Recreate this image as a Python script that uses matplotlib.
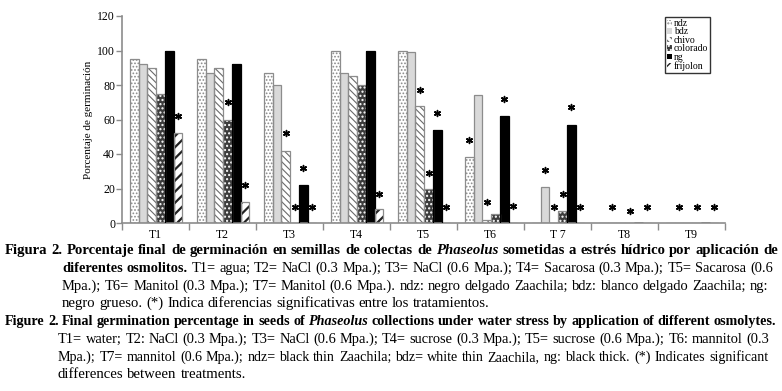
import matplotlib
matplotlib.use("Agg")
import matplotlib.pyplot as plt
import numpy as np
from matplotlib.font_manager import FontProperties
from matplotlib.patches import Patch
from matplotlib.transforms import IdentityTransform

treatments = ["T1", "T2", "T3", "T4", "T5", "T6", "T 7", "T8", "T9"]
collections = ["ndz", "bdz", "chivo", "colorado", "ng", "frijolon"]

ndz = [95, 95, 87, 100, 100, 38, 0, 0, 0]
bdz = [92, 87, 80, 87, 99, 74, 21, 0, 0]
chivo = [90, 90, 42, 85, 68, 2, 0, 0, 0]
colorado = [75, 60, 0, 80, 20, 5, 7, 0, 0]
ng = [100, 92, 22, 100, 54, 62, 57, 0, 0]
frijolon = [52, 12, 0, 8, 0, 0, 0, 0, 0]

# significance asterisks: (treatment, collection, height)
stars = [(0, 5, 62), (1, 3, 70), (1, 5, 22),
         (2, 2, 52), (2, 3, 9), (2, 4, 32), (2, 5, 9),
         (3, 5, 17),
         (4, 2, 77), (4, 3, 29), (4, 4, 64), (4, 5, 9),
         (5, 0, 48), (5, 2, 12), (5, 4, 72), (5, 5, 10),
         (6, 1, 31), (6, 2, 9), (6, 3, 17), (6, 4, 67), (6, 5, 9),
         (7, 1, 9), (7, 3, 7), (7, 5, 9),
         (8, 1, 9), (8, 3, 9), (8, 5, 9)]

caption_es = [
    [("Figura 2. Porcentaje final de germinación en semillas de colectas de ", "bold", "normal"),
     ("Phaseolus", "bold", "italic"),
     (" sometidas a estrés hídrico por aplicación de", "bold", "normal")],
    [("diferentes osmolitos.", "bold", "normal"),
     (" T1= agua; T2= NaCl (0.3 Mpa.); T3= NaCl (0.6 Mpa.); T4= Sacarosa (0.3 Mpa.); T5= Sacarosa (0.6", "normal", "normal")],
    [("Mpa.); T6= Manitol (0.3 Mpa.); T7= Manitol (0.6 Mpa.). ndz: negro delgado Zaachila; bdz: blanco delgado Zaachila; ng:", "normal", "normal")],
    [("negro grueso. (*) Indica diferencias significativas entre los tratamientos.", "normal", "normal")],
]
caption_en = [
    [("Figure 2. Final germination percentage in seeds of ", "bold", "normal"),
     ("Phaseolus", "bold", "italic"),
     (" collections under water stress by application of different osmolytes.", "bold", "normal")],
    [("T1= water; T2: NaCl (0.3 Mpa.); T3= NaCl (0.6 Mpa.); T4= sucrose (0.3 Mpa.); T5= sucrose (0.6 Mpa.); T6: mannitol (0.3", "normal", "normal")],
    [("Mpa.); T7= mannitol (0.6 Mpa.); ndz= black thin Zaachila; bdz= white thin Zaachila, ng: black thick. (*) Indicates significant", "normal", "normal")],
    [("differences between treatments.", "normal", "normal")],
]

SERIF = "Liberation Serif"
W, H = 782, 391

styles = {
    "ndz": dict(face="white", hatch=".....", hcolor="#8a8a8a", edge="#8c8c8c", hlw=0.8),
    "bdz": dict(face="#d9d9d9", hatch=None, hcolor="#d9d9d9", edge="#8c8c8c", hlw=0.8),
    "chivo": dict(face="white", hatch="\\\\\\\\\\", hcolor="#6a6a6a", edge="#8c8c8c", hlw=0.8),
    "colorado": dict(face="#3c3c3c", hatch="....", hcolor="white", edge="#8c8c8c", hlw=1.0),
    "ng": dict(face="black", hatch=None, hcolor="black", edge="black", hlw=0.8),
    "frijolon": dict(face="white", hatch="///", hcolor="#222222", edge="#8c8c8c", hlw=1.6),
}

fig = plt.figure(figsize=(W / 100, H / 100), dpi=100)
ax = fig.add_axes([122 / W, 1 - 223 / H, (725 - 122) / W, (223 - 16) / H])

x = np.arange(len(treatments))
width = 0.13
series = [ndz, bdz, chivo, colorado, ng, frijolon]
offsets = -0.5 + 0.12 + width * (np.arange(6) + 0.5)

handles = []
for i, (name, vals) in enumerate(zip(collections, series)):
    st = styles[name]
    with plt.rc_context({"hatch.linewidth": st["hlw"]}):
        # fill + hatch, hatch colour comes from edgecolor
        bars = ax.bar(x + offsets[i], vals, width, color=st["face"], edgecolor=st["hcolor"],
                      hatch=st["hatch"], linewidth=0, zorder=2)
        for b in bars:
            if hasattr(b, "set_hatch_linewidth"):
                b.set_hatch_linewidth(st["hlw"])
        # outline
        ax.bar(x + offsets[i], vals, width, fill=False, edgecolor=st["edge"], linewidth=0.9, zorder=3)
        h = Patch(facecolor=st["face"], edgecolor=st["hcolor"], hatch=st["hatch"], linewidth=0)
        if hasattr(h, "set_hatch_linewidth"):
            h.set_hatch_linewidth(st["hlw"] * 0.5)
    handles.append(h)

sx = [x[t] + offsets[c] for t, c, _ in stars]
sy = [v for _, _, v in stars]
ax.scatter(sx, sy, marker=(6, 2, 0), s=18, color="black", linewidths=1.1, zorder=4)

ax.set_xlim(-0.5, len(treatments) - 0.5)
ax.set_ylim(0, 120)
ax.set_yticks(np.arange(0, 121, 20))
ax.set_xticks(x)
ax.set_xticklabels(treatments)
ax.set_xticks(np.arange(-0.5, len(treatments)), minor=True)
ax.tick_params(axis="x", which="major", length=0, pad=4)
ax.tick_params(axis="x", which="minor", length=5, color="#8c8c8c", width=1)
ax.tick_params(axis="y", length=4, color="#8c8c8c", width=1, pad=1)
for lab in ax.get_xticklabels() + ax.get_yticklabels():
    lab.set_family(SERIF)
    lab.set_fontsize(8.5)
for side in ["top", "right"]:
    ax.spines[side].set_visible(False)
for side in ["left", "bottom"]:
    ax.spines[side].set_color("#8c8c8c")
    ax.spines[side].set_linewidth(1.2)
ax.set_ylabel("Porcentaje de germinación", family=SERIF, fontsize=8, labelpad=3)

leg = fig.legend(handles, collections, loc="upper left", bbox_to_anchor=(665 / W, 1 - 17 / H),
                 prop=FontProperties(family=SERIF, size=7), frameon=True, fancybox=False,
                 handlelength=0.55, handleheight=0.55, handletextpad=0.15, labelspacing=-0.05,
                 borderpad=0.2, borderaxespad=0)
leg.get_frame().set_edgecolor("black")
leg.get_frame().set_linewidth(1.0)

# caption, placed word by word in pixel coordinates
renderer = fig.canvas.get_renderer()
CAP_SIZE = 10.6


def measure(s, weight, style, size):
    fp = FontProperties(family=SERIF, size=size, weight=weight, style=style)
    w, _, _ = renderer.get_text_width_height_descent(s, fp, ismath=False)
    return w


def caption_line(parts, x0, y, x1=None):
    words = []
    space_before = False
    for s, weight, style in parts:
        toks = s.split(" ")
        for k, tok in enumerate(toks):
            if k > 0:
                space_before = True
            if tok == "":
                continue
            words.append([tok, weight, style, space_before and len(words) > 0])
            space_before = False
    size = CAP_SIZE
    widths = [measure(w[0], w[1], w[2], size) for w in words]
    space = measure("a a", "normal", "normal", size) - measure("aa", "normal", "normal", size)
    n_gap = sum(1 for w in words if w[3])
    if x1 is not None and n_gap:
        natural = sum(widths) + n_gap * space
        if natural > x1 - x0:
            # too long: shrink the font for this line
            size = size * (x1 - x0) / natural
            widths = [measure(w[0], w[1], w[2], size) for w in words]
        space = (x1 - x0 - sum(widths)) / n_gap
    pos = x0
    for w, wd in zip(words, widths):
        if w[3]:
            pos += space
        fig.text(pos, H - y, w[0], transform=IdentityTransform(), family=SERIF, size=size,
                 weight=w[1], style=w[2], va="baseline", ha="left")
        pos += wd


es_y = [254, 272, 290, 307]
es_x0 = [5, 62, 62, 62]
es_x1 = [778, 773, 768, None]
for parts, y, x0, x1 in zip(caption_es, es_y, es_x0, es_x1):
    caption_line(parts, x0, y, x1)

en_y = [325, 343, 361, 378]
en_x0 = [5, 58, 58, 58]
en_x1 = [776, 769, 768, None]
for parts, y, x0, x1 in zip(caption_en, en_y, en_x0, en_x1):
    caption_line(parts, x0, y, x1)

fig.savefig("out.png", dpi=100)
